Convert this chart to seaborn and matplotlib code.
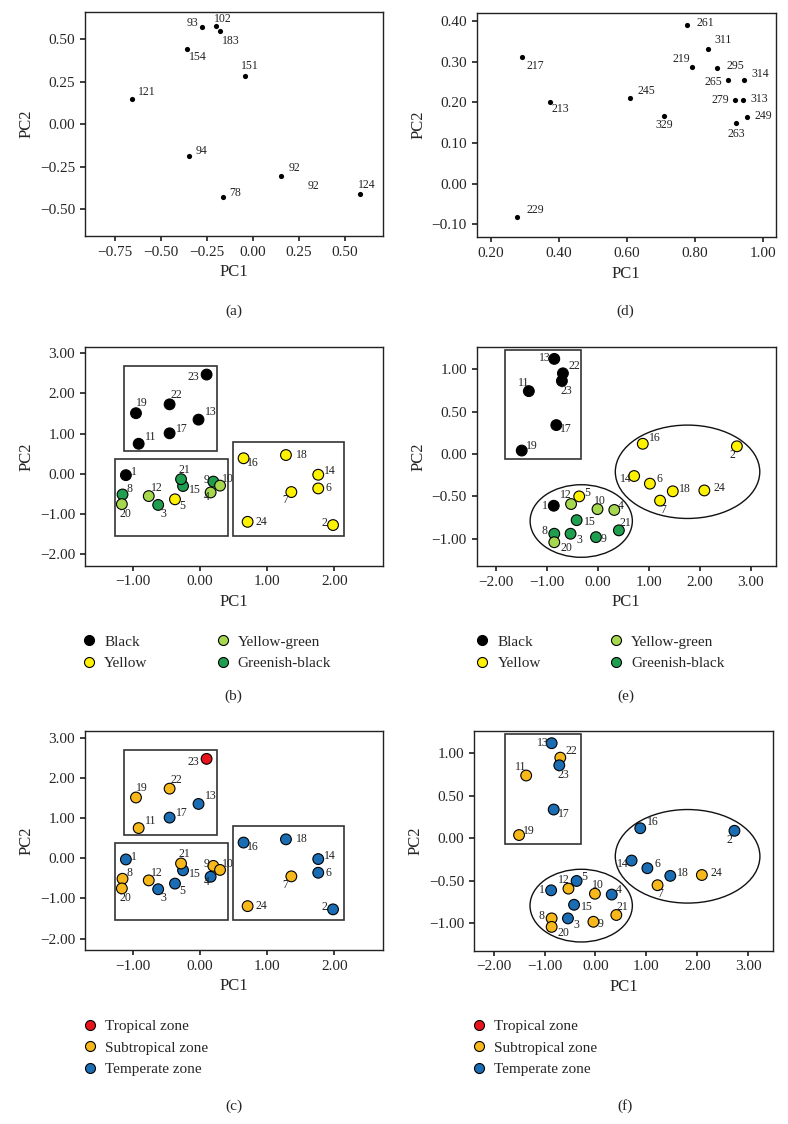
import numpy as np
import pandas as pd
import matplotlib
matplotlib.use("Agg")
import matplotlib.pyplot as plt
import matplotlib.patches as mpatches
from matplotlib.lines import Line2D
from matplotlib.ticker import FuncFormatter
import seaborn as sns

# ---- panel (a) ----
a_labels = ["93", "102", "183", "154", "151", "121", "94", "92", "78", "124"]
a_pc1 = [-0.274, -0.200, -0.177, -0.356, -0.040, -0.653, -0.348, 0.152, -0.162, 0.581]
a_pc2 = [0.571, 0.575, 0.547, 0.439, 0.284, 0.149, -0.188, -0.302, -0.427, -0.410]

# ---- panel (d) ----
d_labels = ["261", "311", "219", "295", "265", "314", "279", "313", "249", "263",
            "245", "329", "217", "213", "229"]
d_pc1 = [0.777, 0.839, 0.790, 0.864, 0.896, 0.945, 0.916, 0.941, 0.953, 0.921,
         0.609, 0.709, 0.290, 0.374, 0.276]
d_pc2 = [0.391, 0.331, 0.287, 0.284, 0.255, 0.255, 0.206, 0.206, 0.164, 0.149,
         0.210, 0.166, 0.311, 0.202, -0.081]

# ---- samples 1..24 ----
samples = [str(i) for i in range(1, 25)]
b_pc1 = [-1.10, 1.98, -0.62, 0.16, -0.37, 1.76, 1.36, -1.15, 0.20, 0.30, -0.91, -0.76,
         -0.02, 1.76, -0.25, 0.65, -0.45, 1.28, -0.95, -1.16, -0.28, -0.45, 0.10, 0.71]
b_pc2 = [-0.03, -1.27, -0.77, -0.46, -0.63, -0.36, -0.45, -0.51, -0.19, -0.29, 0.75, -0.55,
         1.35, -0.02, -0.30, 0.39, 1.01, 0.47, 1.51, -0.75, -0.13, 1.73, 2.47, -1.19]
e_pc1 = [-0.87, 2.73, -0.54, 0.32, -0.37, 1.02, 1.22, -0.86, -0.04, -0.01, -1.36, -0.53,
         -0.86, 0.71, -0.42, 0.88, -0.82, 1.47, -1.50, -0.86, 0.41, -0.69, -0.71, 2.09]
e_pc2 = [-0.61, 0.09, -0.94, -0.66, -0.50, -0.35, -0.55, -0.94, -0.98, -0.65, 0.74, -0.59,
         1.12, -0.26, -0.78, 0.12, 0.34, -0.44, 0.04, -1.04, -0.90, 0.95, 0.86, -0.43]

colour_group = ["Black", "Yellow", "Greenish-black", "Yellow-green", "Yellow", "Yellow",
                "Yellow", "Greenish-black", "Greenish-black", "Yellow-green", "Black",
                "Yellow-green", "Black", "Yellow", "Greenish-black", "Yellow", "Black",
                "Yellow", "Black", "Yellow-green", "Greenish-black", "Black", "Black", "Yellow"]
zone_c = ["Temperate zone"] * 6 + ["Subtropical zone"] * 6 + ["Temperate zone"] * 6 + \
         ["Subtropical zone"] * 4 + ["Tropical zone", "Subtropical zone"]
zone_f = ["Temperate zone"] * 6 + ["Subtropical zone"] * 6 + ["Temperate zone"] * 6 + \
         ["Subtropical zone"] * 4 + ["Temperate zone", "Subtropical zone"]

colour_names = ["Black", "Yellow", "Yellow-green", "Greenish-black"]
colour_pal = {"Black": "#000000", "Yellow": "#fff200",
              "Yellow-green": "#a5d84e", "Greenish-black": "#1f9e4f"}
zone_names = ["Tropical zone", "Subtropical zone", "Temperate zone"]
zone_pal = {"Tropical zone": "#e8131b", "Subtropical zone": "#f6b81a",
            "Temperate zone": "#1a6cb3"}

# label offsets (points)
a_off = {"93": (-7, 3), "102": (5, 5.5), "183": (8, -7), "154": (7.5, -5.5),
         "151": (3.5, 7), "121": (10, 5), "94": (9, 4), "92": (10, 5.5),
         "78": (9, 2.5), "124": (5, 6.5)}
d_off = {"261": (13, 1), "311": (10.5, 6.5), "219": (-7.5, 6), "295": (13.5, 2),
         "265": (-10, -1.5), "314": (11.5, 4.5), "279": (-10, 0), "313": (11.5, 0.5),
         "249": (12, 0.5), "263": (0, -7.5), "245": (11.5, 5.5), "329": (0, -6.5),
         "217": (10, -6), "213": (7.5, -5.5), "229": (13, 5)}
b_off = {"23": (-9.5, -2), "19": (4.5, 7), "22": (5, 6.5), "13": (9, 5.5), "17": (9, 3),
         "11": (8.5, 5), "1": (6, 2), "8": (5, 4), "20": (2.5, -7), "12": (5.5, 5.5),
         "3": (4, -6.5), "5": (5.5, -5), "21": (2.5, 6.5), "15": (8.5, -3), "9": (-5, 1.5),
         "10": (5.5, 4.5), "4": (-3, -3.5), "16": (7, -3.5), "18": (11.5, 0),
         "14": (8, 2.5), "6": (7.5, 0), "7": (-4.5, -6), "24": (10, 0), "2": (-6, 1.5)}
e_off = {"13": (-6.5, 0.5), "22": (8, 5), "23": (3, -7), "11": (-4, 6), "17": (7, -3),
         "19": (7, 3), "16": (9, 4.5), "2": (-3.5, -6.5), "14": (-6, -2.5), "6": (7, 3),
         "18": (9, 2), "24": (10.5, 1.5), "7": (2, -6.5), "5": (5.5, 2.5),
         "12": (-3.5, 6.5), "1": (-6.5, 0), "10": (2, 6), "4": (5, 3), "15": (9.5, -1.5),
         "21": (4.5, 5.5), "8": (-7, 2), "3": (6, -4.5), "9": (5.5, -1.5), "20": (8.5, -4.5)}

sns.set_theme(style="ticks")
plt.rcParams["font.family"] = ["Liberation Serif", "DejaVu Serif"]
plt.rcParams["axes.edgecolor"] = "#222222"
plt.rcParams["axes.linewidth"] = 1.0
plt.rcParams["xtick.major.size"] = 3.5
plt.rcParams["ytick.major.size"] = 3.5
plt.rcParams["xtick.labelsize"] = 11
plt.rcParams["ytick.labelsize"] = 11
plt.rcParams["axes.labelsize"] = 12

W, H = 788, 1124
fig = plt.figure(figsize=(W / 100, H / 100), dpi=100)


def axes_px(left, top, right, bottom):
    return fig.add_axes([left / W, 1 - bottom / H, (right - left) / W, (bottom - top) / H])


fmt = FuncFormatter(lambda v, p: f"{v:.2f}".replace("-", "\u2212"))


def finish(ax, xlim, ylim, xt, yt):
    ax.set_xlim(*xlim)
    ax.set_ylim(*ylim)
    ax.set_xticks(xt)
    ax.set_yticks(yt)
    ax.xaxis.set_major_formatter(fmt)
    ax.yaxis.set_major_formatter(fmt)
    ax.set_xlabel("PC1")
    ax.set_ylabel("PC2")
    for s in ax.spines.values():
        s.set_visible(True)


def annotate(ax, labels, xs, ys, offsets, size):
    for lbl, x, y in zip(labels, xs, ys):
        ax.annotate(lbl, (x, y), xytext=offsets[lbl], textcoords="offset points",
                    ha="center", va="center", fontsize=size, color="#222222")


def add_legend(ax, names, pal, ncol, x_px, top_px, colsp):
    handles = [Line2D([], [], marker="o", linestyle="", markerfacecolor=pal[n],
                      markeredgecolor="black", markeredgewidth=0.8, markersize=7.2)
               for n in names]
    ax.legend(handles, names, loc="upper left", bbox_to_anchor=(x_px / W, 1 - top_px / H),
              bbox_transform=fig.transFigure, ncol=ncol, frameon=False, fontsize=11,
              handlelength=1.0, handletextpad=0.5, columnspacing=colsp,
              labelspacing=0.52, borderpad=0, borderaxespad=0)


# (a)
ax = axes_px(85, 12, 383, 236)
df_a = pd.DataFrame({"PC1": a_pc1, "PC2": a_pc2})
sns.scatterplot(data=df_a, x="PC1", y="PC2", color="black", s=14, linewidth=0, ax=ax)
annotate(ax, a_labels, a_pc1, a_pc2, a_off, 8.5)
ax.text(0.327, -0.361, "92", ha="center", va="center", fontsize=8.5, color="#222222")
finish(ax, (-0.91, 0.706), (-0.657, 0.659),
       [-0.75, -0.5, -0.25, 0, 0.25, 0.5], [-0.5, -0.25, 0, 0.25, 0.5])

# (d)
ax = axes_px(476.7, 12.7, 775.7, 237.3)
df_d = pd.DataFrame({"PC1": d_pc1, "PC2": d_pc2})
sns.scatterplot(data=df_d, x="PC1", y="PC2", color="black", s=14, linewidth=0, ax=ax)
annotate(ax, d_labels, d_pc1, d_pc2, d_off, 8.5)
finish(ax, (0.158, 1.037), (-0.132, 0.421),
       [0.2, 0.4, 0.6, 0.8, 1.0], [-0.1, 0, 0.1, 0.2, 0.3, 0.4])

df_b = pd.DataFrame({"PC1": b_pc1, "PC2": b_pc2, "colour": colour_group, "zone": zone_c})
df_e = pd.DataFrame({"PC1": e_pc1, "PC2": e_pc2, "colour": colour_group, "zone": zone_f})


def rects_b(ax):
    for (x0, x1, y0, y1) in [(-1.13, 0.26, 0.58, 2.69), (-1.26, 0.42, -1.53, 0.37),
                             (0.50, 2.15, -1.53, 0.79)]:
        ax.add_patch(mpatches.Rectangle((x0, y0), x1 - x0, y1 - y0, fill=False,
                                        edgecolor="#333333", linewidth=1.2, zorder=0.5))


def shapes_e(ax, dx=0.0):
    ax.add_patch(mpatches.Rectangle((-1.83 + dx, -0.065), 1.50, 1.295, fill=False,
                                    edgecolor="#333333", linewidth=1.2, zorder=0.5))
    ax.add_patch(mpatches.Ellipse((1.76 + dx, -0.21), 2.84, 1.10, fill=False,
                                  edgecolor="#111111", linewidth=1.0, zorder=0.5))
    ax.add_patch(mpatches.Ellipse((-0.33 + dx, -0.79), 2.01, 0.855, fill=False,
                                  edgecolor="#111111", linewidth=1.0, zorder=0.5))


# (b)
ax = axes_px(85, 347, 383, 565.7)
rects_b(ax)
sns.scatterplot(data=df_b, x="PC1", y="PC2", hue="colour", palette=colour_pal, s=60,
                edgecolor="black", linewidth=0.8, legend=False, ax=ax, zorder=3)
annotate(ax, samples, b_pc1, b_pc2, b_off, 8.5)
finish(ax, (-1.708, 2.723), (-2.28, 3.155), [-1, 0, 1, 2], [-2, -1, 0, 1, 2, 3])
add_legend(ax, colour_names, colour_pal, 2, 81.4, 635, 4.4)

# (e)
ax = axes_px(476.7, 347, 775.7, 566)
shapes_e(ax)
sns.scatterplot(data=df_e, x="PC1", y="PC2", hue="colour", palette=colour_pal, s=60,
                edgecolor="black", linewidth=0.8, legend=False, ax=ax, zorder=3)
annotate(ax, samples, e_pc1, e_pc2, e_off, 8.5)
finish(ax, (-2.385, 3.493), (-1.32, 1.26), [-2, -1, 0, 1, 2, 3], [-1, -0.5, 0, 0.5, 1])
add_legend(ax, colour_names, colour_pal, 2, 474.7, 635, 4.4)

# (c)
ax = axes_px(85, 731.3, 383, 950)
rects_b(ax)
sns.scatterplot(data=df_b, x="PC1", y="PC2", hue="zone", palette=zone_pal, s=60,
                edgecolor="black", linewidth=0.8, legend=False, ax=ax, zorder=3)
annotate(ax, samples, b_pc1, b_pc2, b_off, 8.5)
finish(ax, (-1.708, 2.723), (-2.28, 3.155), [-1, 0, 1, 2], [-2, -1, 0, 1, 2, 3])
add_legend(ax, zone_names, zone_pal, 1, 82.4, 1019.5, 1.0)

# (f)
ax = axes_px(474, 731.3, 773.3, 950.7)
shapes_e(ax, 0.05)
sns.scatterplot(data=df_e, x="PC1", y="PC2", hue="zone", palette=zone_pal, s=60,
                edgecolor="black", linewidth=0.8, legend=False, ax=ax, zorder=3)
annotate(ax, samples, e_pc1, e_pc2, e_off, 8.5)
finish(ax, (-2.385, 3.493), (-1.32, 1.26), [-2, -1, 0, 1, 2, 3], [-1, -0.5, 0, 0.5, 1])
add_legend(ax, zone_names, zone_pal, 1, 471.4, 1019.5, 1.0)

for lbl, x, y in [("(a)", 233.5, 311), ("(d)", 625.7, 311), ("(b)", 233.5, 696),
                  ("(e)", 625.5, 696), ("(c)", 233.5, 1106), ("(f)", 625.5, 1106)]:
    fig.text(x / W, 1 - y / H, lbl, ha="center", va="center", fontsize=11)

fig.savefig("out.png", dpi=100)
